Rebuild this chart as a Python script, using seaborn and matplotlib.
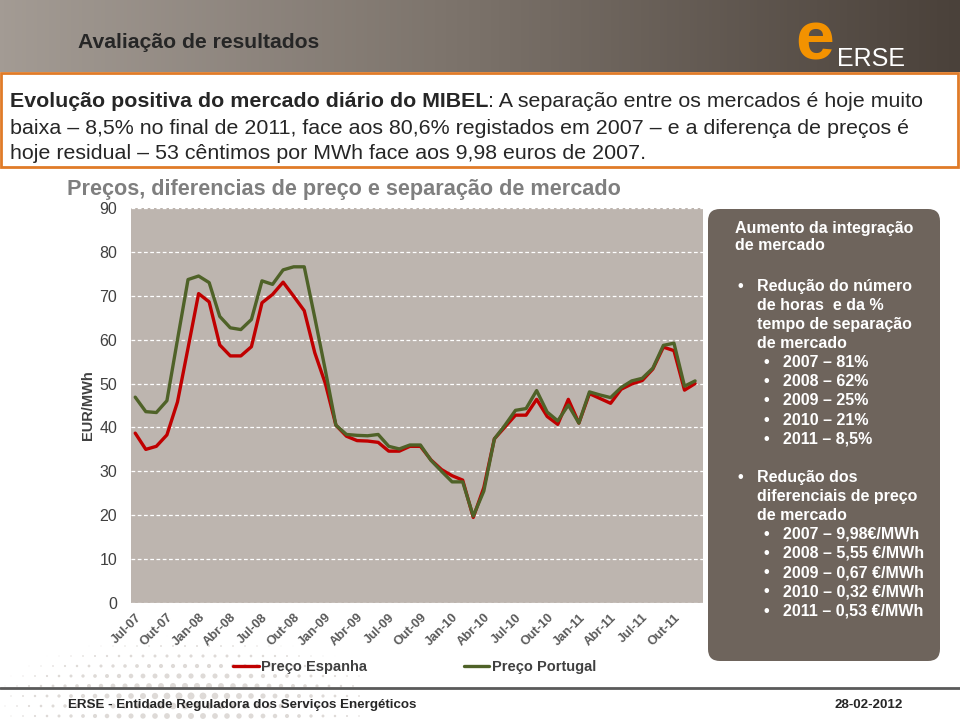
import numpy as np
import pandas as pd
import matplotlib
matplotlib.use("Agg")
import matplotlib.pyplot as plt
import matplotlib.transforms as mtransforms
import seaborn as sns
from matplotlib.patches import Rectangle, FancyBboxPatch
from matplotlib.colors import LinearSegmentedColormap

# monthly prices Jul-07 .. Dez-11 (EUR/MWh)
meses = ["Jul-07", "Ago-07", "Set-07", "Out-07", "Nov-07", "Dez-07",
         "Jan-08", "Fev-08", "Mar-08", "Abr-08", "Mai-08", "Jun-08",
         "Jul-08", "Ago-08", "Set-08", "Out-08", "Nov-08", "Dez-08",
         "Jan-09", "Fev-09", "Mar-09", "Abr-09", "Mai-09", "Jun-09",
         "Jul-09", "Ago-09", "Set-09", "Out-09", "Nov-09", "Dez-09",
         "Jan-10", "Fev-10", "Mar-10", "Abr-10", "Mai-10", "Jun-10",
         "Jul-10", "Ago-10", "Set-10", "Out-10", "Nov-10", "Dez-10",
         "Jan-11", "Fev-11", "Mar-11", "Abr-11", "Mai-11", "Jun-11",
         "Jul-11", "Ago-11", "Set-11", "Out-11", "Nov-11", "Dez-11"]

preco_espanha = [38.7, 35.0, 35.7, 38.3, 45.8, 58.1, 70.5, 68.6, 58.8, 56.3,
                 56.3, 58.4, 68.4, 70.3, 73.1, 69.9, 66.6, 57.0, 50.0, 40.5,
                 38.0, 37.0, 36.9, 36.6, 34.6, 34.6, 35.7, 35.7, 32.6, 30.4,
                 29.0, 28.0, 19.5, 26.3, 37.4, 40.1, 42.8, 42.8, 46.4, 42.5,
                 40.7, 46.4, 41.0, 47.7, 46.6, 45.5, 48.7, 49.9, 50.7, 53.3,
                 58.3, 57.5, 48.5, 50.0]

preco_portugal = [46.9, 43.6, 43.4, 46.1, 60.0, 73.7, 74.5, 73.0, 65.3, 62.7,
                  62.3, 64.6, 73.4, 72.6, 75.9, 76.6, 76.6, 65.0, 53.0, 40.5,
                  38.4, 38.2, 38.1, 38.4, 35.7, 35.1, 36.0, 36.0, 32.5, 30.0,
                  27.6, 27.6, 19.8, 25.5, 37.4, 40.5, 43.9, 44.3, 48.4, 43.5,
                  41.5, 45.1, 41.0, 48.1, 47.4, 46.8, 49.1, 50.6, 51.2, 53.5,
                  58.7, 59.2, 49.4, 50.6]

series = ["Preço Espanha", "Preço Portugal"]
cores = {"Preço Espanha": "#C00000", "Preço Portugal": "#4F6228"}

painel_titulo = ["Aumento da integração", "de mercado"]
bloco1 = ["Redução do número", "de horas  e da %", "tempo de separação", "de mercado"]
sub1 = ["2007 – 81%", "2008 – 62%", "2009 – 25%", "2010 – 21%", "2011 – 8,5%"]
bloco2 = ["Redução dos", "diferenciais de preço", "de mercado"]
sub2 = ["2007 – 9,98€/MWh", "2008 – 5,55 €/MWh", "2009 – 0,67 €/MWh",
        "2010 – 0,32 €/MWh", "2011 – 0,53 €/MWh"]

df = pd.DataFrame({
    "mes": list(range(len(meses))) * 2,
    "preco": preco_espanha + preco_portugal,
    "serie": [series[0]] * len(meses) + [series[1]] * len(meses),
})

sns.set_style("white")
plt.rcParams['font.family'] = ['Liberation Sans', 'DejaVu Sans']

fig = plt.figure(figsize=(9.6, 7.2), dpi=100)

# slide background drawn in pixel coordinates
bg = fig.add_axes([0, 0, 1, 1])
grad = np.linspace(0, 1, 256).reshape(1, -1)
cmap = LinearSegmentedColormap.from_list("hdr", ["#A39B94", "#7A7169", "#4A413A"])
bg.imshow(grad, extent=[0, 960, 72, 0], aspect="auto", cmap=cmap)

# faint halftone decoration bottom-left
gx, gy = np.meshgrid(np.arange(5, 360, 12), np.arange(636, 720, 10))
gx = gx + (gy // 10 % 2) * 6
d = np.sqrt(((gx - 190) / 200) ** 2 + ((gy - 700) / 65) ** 2)
sz = np.clip(1 - d, 0, None) ** 1.5 * 28
bg.scatter(gx.ravel(), gy.ravel(), s=sz.ravel(), color="#DEDAD7", lw=0)

bg.set_xlim(0, 960)
bg.set_ylim(720, 0)
bg.axis("off")

bg.text(78, 42, "Avaliação de resultados", fontsize=15.2, weight="bold", va="center")
bg.text(815, 42, "e", color="#F39200", fontsize=50, weight="bold", ha="center", va="center")
bg.text(837, 59, "ERSE", color="white", fontsize=18, va="center")

bg.add_patch(Rectangle((1, 73), 957, 94, fc="white", ec="#E07B28", lw=2))
t1 = bg.text(10, 107, "Evolução positiva do mercado diário do MIBEL", fontsize=15.4,
             weight="bold", va="baseline")
bg.annotate(": A separação entre os mercados é hoje muito", xy=(1, 0), xycoords=t1,
            fontsize=15.4, va="bottom", ha="left")
bg.text(10, 134, "baixa – 8,5% no final de 2011, face aos 80,6% registados em 2007 – "
        "e a diferença de preços é", fontsize=15.4, va="baseline")
bg.text(10, 159, "hoje residual – 53 cêntimos por MWh face aos 9,98 euros de 2007.",
        fontsize=15.4, va="baseline")

bg.text(67, 189, "Preços, diferencias de preço e separação de mercado", fontsize=15.6,
        weight="bold", color="#7F7F7F", va="center")

# side panel
bg.add_patch(FancyBboxPatch((708, 209), 232, 452, boxstyle="round,pad=0,rounding_size=12",
                            fc="#6E645C", ec="none"))
kw = dict(color="white", fontsize=11.5, weight="bold", va="center")
y = 228
for s in painel_titulo:
    bg.text(735, y, s, **kw)
    y += 18
y = 287
for bloco, sub in [(bloco1, sub1), (bloco2, sub2)]:
    bg.text(737, y, "•", **kw)
    for s in bloco:
        bg.text(757, y, s, **kw)
        y += 18.9
    for s in sub:
        bg.text(763, y, "•", **kw)
        bg.text(783, y, s, **kw)
        y += 19.2
    y += 19

# footer
bg.plot([0, 960], [688, 688], color="#5A5A5A", lw=2)
bg.text(68, 705, "ERSE - Entidade Reguladora dos Serviços Energéticos", fontsize=9.6,
        weight="bold", va="center")
bg.text(903, 705, "28-02-2012", fontsize=9.6, weight="bold", va="center", ha="right")

# chart
ax = fig.add_axes([131 / 960, 1 - 603 / 720, (703 - 131) / 960, (603 - 208) / 720])
sns.lineplot(data=df, x="mes", y="preco", hue="serie", palette=cores, linewidth=2.4, ax=ax)
ax.set_facecolor("#BDB5AF")
ax.set_xlim(-0.4, 53.75)
ax.set_ylim(0, 90)
ax.set_yticks(range(0, 91, 10))
ax.yaxis.grid(True, color="white", linestyle=(0, (3, 2)), lw=0.9)
ax.xaxis.grid(False)
for sp in ax.spines.values():
    sp.set_visible(False)
ax.set_xticks(range(0, len(meses), 3))
ax.set_xticklabels(meses[::3], rotation=45, ha="right", rotation_mode="anchor",
                   fontsize=9.2, weight="bold", color="#595959")
shift = mtransforms.ScaledTranslation(4 / 100, 0, fig.dpi_scale_trans)
for lab in ax.get_xticklabels():
    lab.set_transform(lab.get_transform() + shift)
ax.tick_params(axis="y", length=0, pad=10, labelsize=11.5, labelcolor="#404040")
ax.tick_params(axis="x", length=0, pad=6)
ax.set_xlabel("")
ax.set_ylabel("EUR/MWh", fontsize=10.5, weight="bold", color="#404040", labelpad=3)

handles, labels = ax.get_legend_handles_labels()
ax.get_legend().remove()
fig.legend(handles, labels, loc="center left", bbox_to_anchor=(233 / 960, 1 - 667 / 720),
           ncol=2, frameon=False, handlelength=1.75, handletextpad=0.2,
           columnspacing=6.6, borderpad=0, borderaxespad=0,
           prop={"weight": "bold", "size": 10.5})
for t in fig.legends[0].get_texts():
    t.set_color("#404040")

fig.savefig("out.png", dpi=100)
